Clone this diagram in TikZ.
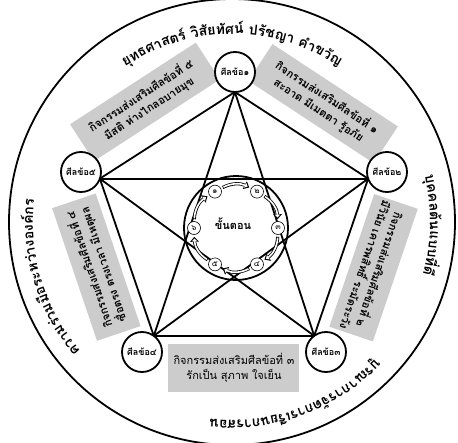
\documentclass[tikz,border=0pt]{standalone}
\usepackage{fontspec}
\newfontfamily\thaifont[Script=Thai]{Loma}
\usetikzlibrary{calc,arrows.meta}

\newdimen\arcw
\newdimen\arccw
\newbox\arcbox
\newcommand\arcfont{\thaifont\bfseries\fontsize{14}{16}\selectfont}
% measure the rim text inside a node, keep angle/text pairs in \arcitems
\newcommand\arcprep[3]{%
  \global\arcw=0pt
  \foreach \w in {#3}{\setbox\arcbox=\hbox{\arcfont\w}\global\advance\arcw by\wd\arcbox}%
  \pgfmathsetmacro\arcang{#2+0.5*\arcw/#1*57.2958}%
  \xdef\arcang{\arcang}\gdef\arcitems{}%
  \foreach \w in {#3}{%
    \setbox\arcbox=\hbox{\arcfont\w}\arccw=\wd\arcbox
    \pgfmathsetmacro\arcmid{\arcang-0.5*\arccw/#1*57.2958}%
    \pgfmathsetmacro\arcang{\arcang-\arccw/#1*57.2958}%
    \xdef\arcang{\arcang}%
    \xdef\arcitems{\unexpanded\expandafter{\arcitems}\ifx\arcitems\empty\else,\fi
      \arcmid/\unexpanded\expandafter{\w}}%
  }%
}
% text on the rim, read clockwise, tops outward
\newcommand\arctext[3]{%
  \node[inner sep=0pt] at (0,0) {\arcprep{#1}{#2}{#3}};
  \foreach \a/\w in \arcitems {\node[arcword, rotate=\a-90] at (\a:#1) {\w};}
}

\tikzstyle{sila} = [circle, draw, line width=1.8pt, fill=white, minimum size=40pt,
    inner sep=0pt, font=\thaifont\bfseries\fontsize{9}{10}\selectfont]
\tikzstyle{block} = [fill=gray!40, align=center, inner sep=0pt,
    font=\thaifont\bfseries\fontsize{11}{15}\selectfont]
\tikzstyle{stepdot} = [circle, draw, line width=0.6pt, fill=white, minimum size=13pt,
    inner sep=0pt, font=\thaifont\fontsize{8}{9}\selectfont]
\tikzstyle{arrowout} = [line width=3.2pt, shorten <=2pt, shorten >=2pt,
    -{Triangle[length=5pt,width=8.5pt]}]
\tikzstyle{arrowin} = [white, line width=1.6pt, shorten <=2.8pt, shorten >=3.8pt,
    -{Triangle[length=2.8pt,width=5pt]}]
\tikzstyle{arcword} = [anchor=base, inner sep=0pt, font=\arcfont]
\tikzstyle{starline} = [line width=1.8pt]

\begin{document}
\begin{tikzpicture}[x=1pt,y=1pt]
  \useasboundingbox (-232,-220) rectangle (226,222);
  \draw[line width=1.8pt] (0,0) circle[radius=223];

  \arctext{188}{90}{ยุทธ,ศา,สตร์,~,วิ,สัย,ทัศน์,~,ป,รัช,ญา,~,คำ,ขวัญ}
  \arctext{198}{-1}{บุค,คล,ต้น,แบบ,ที่,ดี}
  \arctext{199}{197}{ความ,ร่วม,มือ,ระ,หว่าง,อง,ค์กร}
  \arctext{198}{290}{บู,รณา,การ,จัด,การ,เรียน,การ,สอน}

  \coordinate (ctr) at (2,-4);
  \coordinate (v1) at (3,150);
  \coordinate (v2) at (155,50);
  \coordinate (v3) at (94,-130);
  \coordinate (v4) at (-90,-130);
  \coordinate (v5) at (-151,50);
  \coordinate (m12) at ($(v1)!.5!(v2)$);
  \coordinate (m23) at ($(v2)!.5!(v3)$);
  \coordinate (m34) at ($(v3)!.5!(v4)$);
  \coordinate (m45) at ($(v4)!.5!(v5)$);
  \coordinate (m51) at ($(v5)!.5!(v1)$);

  \node[block, rotate=-33.3, minimum width=150pt, minimum height=44pt] (k1)
      at ($(m12)!22pt!90:(v2)$) {กิจกรรมส่งเสริมศีลข้อที่ ๑\\สะอาด มีเมตตา รู้อภัย};
  \node[block, rotate=-108.7, minimum width=140pt, minimum height=46pt] (k2)
      at ($(m23)!18pt!90:(v3)$) {กิจกรรมส่งเสริมศีลข้อที่ ๒\\มีวินัย เคารพสิทธิ์ ระมัดระวัง};
  \node[block, minimum width=131pt, minimum height=48pt,
      font=\thaifont\fontsize{11}{15}\selectfont] (k3)
      at ($(m34)!16pt!90:(v4)$) {กิจกรรมส่งเสริมศีลข้อที่ ๓\\รักเป็น สุภาพ ใจเย็น};
  \node[block, rotate=108.7, minimum width=140pt, minimum height=46pt] (k4)
      at ($(m45)!16pt!90:(v5)$) {กิจกรรมส่งเสริมศีลข้อที่ ๔\\ซื่อตรง ตรงเวลา มีเหตุผล};
  \node[block, rotate=33, minimum width=150pt, minimum height=44pt] (k5)
      at ($(m51)!24pt!90:(v1)$) {กิจกรรมส่งเสริมศีลข้อที่ ๕\\มีสติ ห่างไกลอบายมุข};

  \foreach \i in {1,...,5}
    \coordinate (p\i) at ($(v\i)!20pt!(ctr)$);
  \foreach \i/\j in {1/2,2/3,3/4,4/5,5/1,1/3,3/5,5/2,2/4,4/1}
    \draw[starline] (p\i) -- (p\j);

  \node[sila] (s1) at (v1) {ศีลข้อ๑};
  \node[sila] (s2) at (v2) {ศีลข้อ๒};
  \node[sila] (s3) at (v3) {ศีลข้อ๓};
  \node[sila] (s4) at (v4) {ศีลข้อ๔};
  \node[sila] (s5) at (v5) {ศีลข้อ๕};

  \coordinate (hub) at (4,-6);
  \draw[line width=1.8pt] (4,-6) circle[radius=52];
  \node[font=\thaifont\bfseries\fontsize{11}{12}\selectfont] (title) at (1,-2) {ขั้นตอน};
  \foreach \k/\a/\d in {1/120/๑,2/60/๒,3/0/๓,4/-60/๔,5/-120/๕,6/180/๖}
    \node[stepdot] (t\k) at ($(hub)+(\a:42)$) {\d};
  \foreach \k/\n in {1/2,2/3,3/4,4/5,5/6,6/1} {
    \draw[arrowout] (t\k) to[bend left=28] (t\n);
    \draw[arrowin] (t\k) to[bend left=28] (t\n);
  }
\end{tikzpicture}
\end{document}
